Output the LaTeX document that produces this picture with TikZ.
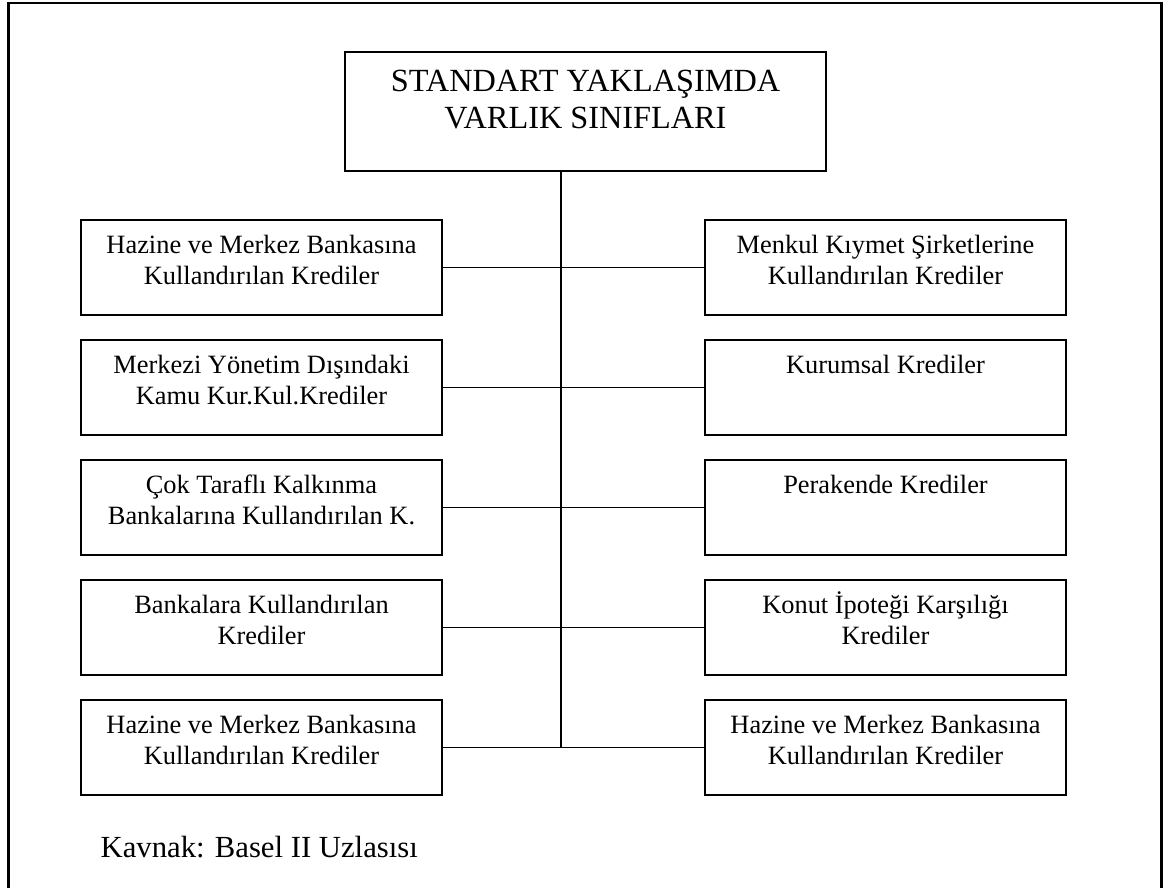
\documentclass[tikz,border=0pt]{standalone}
\usepackage{fontspec}
\setmainfont{Liberation Serif}
\begin{document}
\begin{tikzpicture}[x=1pt,y=-1pt,
  cerceve/.style={line width=2.3pt},
  kutu/.style={draw, line width=2pt, rectangle, inner sep=0pt,
    minimum width=361pt, minimum height=95pt, anchor=north west},
  yazi/.style={inner sep=0pt, anchor=base,
    font=\fontsize{26.4}{31}\selectfont},
  baglanti/.style={line width=1.9pt}]
\useasboundingbox (0,0) rectangle (1170,887);

% page frame, open at the bottom
\draw[cerceve] (8.5,890) -- (8.5,3.3) -- (1161.5,3.3) -- (1161.5,890);

% a framed box with its text set from the top, one tabular row per line
\newcommand\kutucuk[4]{%
  \node[kutu] (#1) at (#2,#3) {};
  \node[yazi] (#1-yazi) at ([yshift=-34pt]#1.north)
    {\begin{tabular}[t]{@{}c@{}}#4\end{tabular}};
}

% title box
\node[draw, line width=2pt, inner sep=0pt, minimum width=481pt,
  minimum height=119pt, anchor=north west] (baslik) at (344,51) {};
\node[inner sep=0pt, anchor=base, font=\fontsize{32.3}{36.7}\selectfont]
  (baslik-yazi) at ([yshift=-40.7pt]baslik.north)
  {\begin{tabular}[t]{@{}c@{}}STANDART YAKLAŞIMDA\\VARLIK SINIFLARI\end{tabular}};

% left column
\kutucuk{sol1}{80}{219}{Hazine ve Merkez Bankasına\\Kullandırılan Krediler}
\kutucuk{sol2}{80}{339}{Merkezi Yönetim Dışındaki\\Kamu Kur.Kul.Krediler}
\kutucuk{sol3}{80}{459}{Çok Taraflı Kalkınma\\Bankalarına Kullandırılan K.}
\kutucuk{sol4}{80}{579}{Bankalara Kullandırılan\\Krediler}
\kutucuk{sol5}{80}{699}{Hazine ve Merkez Bankasına\\Kullandırılan Krediler}

% right column
\kutucuk{sag1}{704}{219}{Menkul Kıymet Şirketlerine\\Kullandırılan Krediler}
\kutucuk{sag2}{704}{339}{Kurumsal Krediler}
\kutucuk{sag3}{704}{459}{Perakende Krediler}
\kutucuk{sag4}{704}{579}{Konut İpoteği Karşılığı\\Krediler}
\kutucuk{sag5}{704}{699}{Hazine ve Merkez Bankasına\\Kullandırılan Krediler}

% trunk from the title down to the last row
\coordinate (govde) at (560.7,0);
\draw[baglanti] (baslik.south -| govde) -- (sol5.east -| govde);

% branches joining each pair of boxes across the trunk
\foreach \i in {1,...,5}
  \draw[baglanti] (sol\i.east) -- (sag\i.west);

% source line
\node[inner sep=0pt, anchor=base west, font=\fontsize{30.7}{36}\selectfont]
  (kaynak) at (100.5,857.7) {Kavnak: Basel II Uzlasısı};
\end{tikzpicture}
\end{document}
